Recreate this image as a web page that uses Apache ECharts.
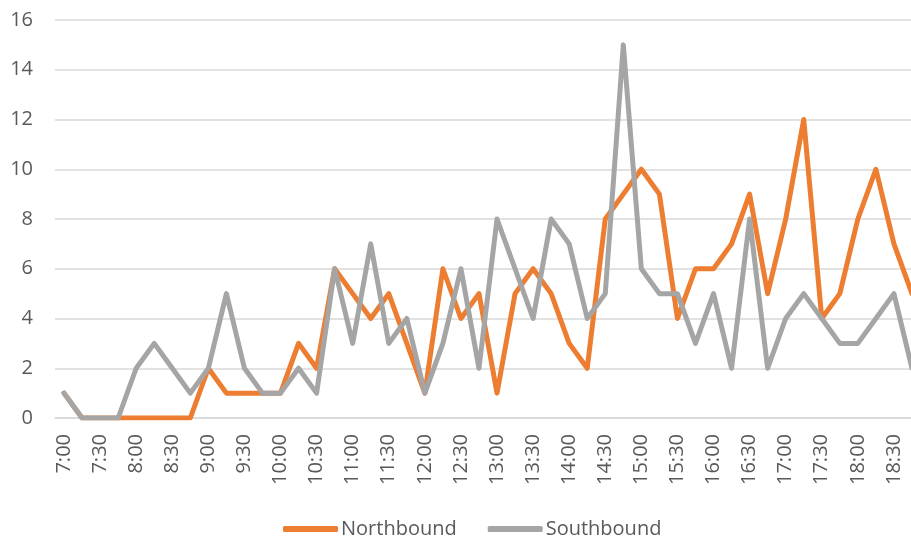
<!DOCTYPE html>
<html>
<head>
<meta charset="utf-8">
<script src="https://cdn.jsdelivr.net/npm/echarts@6/dist/echarts.min.js"></script>
<style>
html,body{margin:0;padding:0;background:#fff;overflow:hidden;width:911px;height:538px;}
#chart{width:921px;height:538px;}
</style>
</head>
<body>
<div id="chart"></div>
<script>
var times = ["7:00","7:15","7:30","7:45","8:00","8:15","8:30","8:45","9:00","9:15","9:30","9:45",
  "10:00","10:15","10:30","10:45","11:00","11:15","11:30","11:45","12:00","12:15","12:30","12:45",
  "13:00","13:15","13:30","13:45","14:00","14:15","14:30","14:45","15:00","15:15","15:30","15:45",
  "16:00","16:15","16:30","16:45","17:00","17:15","17:30","17:45","18:00","18:15","18:30","18:45"];
var northbound = [1,0,0,0,0,0,0,0,2,1,1,1,
  1,3,2,6,5,4,5,3,1,6,4,5,
  1,5,6,5,3,2,8,9,10,9,4,6,
  6,7,9,5,8,12,4,5,8,10,7,5];
var southbound = [1,0,0,0,2,3,2,1,2,5,2,1,
  1,2,1,6,3,7,3,4,1,3,6,2,
  8,6,4,8,7,4,5,15,6,5,5,3,
  5,2,8,2,4,5,4,3,3,4,5,2];
var seriesNames = ["Northbound","Southbound"];

var chart = echarts.init(document.getElementById('chart'));
var font = "'Open Sans', 'Noto Sans', sans-serif";
chart.setOption({
  animation: false,
  backgroundColor: '#ffffff',
  color: ['#ED7D31', '#A5A5A5'],
  grid: {left: 55, top: 20, right: 0, bottom: 120, containLabel: false},
  legend: {
    data: seriesNames,
    left: 278,
    top: 514,
    icon: 'roundRect',
    itemWidth: 55,
    itemHeight: 6,
    itemGap: 31,
    textStyle: {fontFamily: font, fontSize: 20, color: '#595959', padding: [0,0,0,-2]}
  },
  xAxis: {
    type: 'category',
    data: times,
    boundaryGap: true,
    axisLine: {show: true, lineStyle: {color: '#D9D9D9', width: 1.5}},
    axisTick: {show: false},
    axisLabel: {interval: 1, rotate: 90, margin: 16, fontFamily: font, fontSize: 20, color: '#595959'},
    splitLine: {show: false}
  },
  yAxis: {
    type: 'value',
    min: 0, max: 16, interval: 2,
    axisLine: {show: false},
    axisTick: {show: false},
    axisLabel: {margin: 22, fontFamily: font, fontSize: 20, color: '#595959'},
    splitLine: {lineStyle: {color: '#D9D9D9', width: 1.5}}
  },
  series: [
    {name: seriesNames[0], type: 'line', data: northbound, symbol: 'none', showSymbol: false,
     lineStyle: {width: 5, color: '#ED7D31', cap: 'round', join: 'round'}},
    {name: seriesNames[1], type: 'line', data: southbound, symbol: 'none', showSymbol: false,
     lineStyle: {width: 5, color: '#A5A5A5', cap: 'round', join: 'round'}}
  ]
});
</script>
</body>
</html>
